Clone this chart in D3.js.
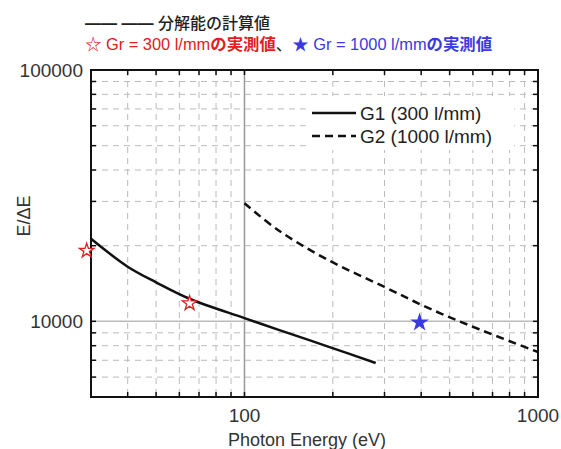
<!DOCTYPE html>
<html>
<head>
<meta charset="utf-8">
<script src="https://cdn.jsdelivr.net/npm/d3@7"></script>
<style>
body { margin: 0; background: white; }
text { font-family: "Liberation Sans", Arial, "Noto Sans CJK JP", sans-serif; }
.jp { font-family: "Liberation Sans", "Noto Sans CJK JP", sans-serif; }
</style>
</head>
<body>
<script>
// calculated resolution curves
var g1Energy = [30, 40, 50, 65, 100, 130, 195, 280];
var g1Res = [21300, 16500, 14300, 12300, 10300, 9270, 7900, 6830];
var g2Energy = [100, 130, 190, 300, 430, 630, 1000];
var g2Res = [29500, 23100, 17700, 13700, 11200, 9300, 7550];

// measured values
var g1MeasEnergy = [29, 65];
var g1MeasRes = [19100, 11800];
var g2MeasEnergy = [395];
var g2MeasRes = [9900];

var xTickLabels = [100, 1000];
var yTickLabels = [10000, 100000];
var legendLabels = ["G1 (300 l/mm)", "G2 (1000 l/mm)"];

var w = 561, h = 449;
var pLeft = 91, pRight = 538, pTop = 70, pBottom = 397;

var svg = d3.select("body").append("svg")
	.attr("width", w)
	.attr("height", h);

var x = d3.scaleLog().domain([30, 1000]).range([pLeft, pRight]);
var y = d3.scaleLog().domain([5000, 100000]).range([pBottom, pTop]);

var xMinor = [40, 50, 60, 70, 80, 90, 200, 300, 400, 500, 600, 700, 800, 900];
var yMinor = [6000, 7000, 8000, 9000, 20000, 30000, 40000, 50000, 60000, 70000, 80000, 90000];

// grid
var grid = svg.append("g");
grid.selectAll("line.vx").data(xMinor).enter().append("line")
	.attr("x1", d => x(d)).attr("x2", d => x(d))
	.attr("y1", pTop).attr("y2", pBottom)
	.style("stroke", "#bbb").style("stroke-width", 1).style("stroke-dasharray", "6,5");
grid.selectAll("line.hy").data(yMinor).enter().append("line")
	.attr("x1", pLeft).attr("x2", pRight)
	.attr("y1", d => y(d)).attr("y2", d => y(d))
	.style("stroke", "#bbb").style("stroke-width", 1).style("stroke-dasharray", "6,5");
grid.append("line")
	.attr("x1", x(100)).attr("x2", x(100)).attr("y1", pTop).attr("y2", pBottom)
	.style("stroke", "#999").style("stroke-width", 1.5);
grid.append("line")
	.attr("x1", pLeft).attr("x2", pRight).attr("y1", y(10000)).attr("y2", y(10000))
	.style("stroke", "#bbb").style("stroke-width", 1.5);

// legend background
svg.append("rect")
	.attr("x", 308).attr("y", 96).attr("width", 206).attr("height", 54)
	.style("fill", "white");

// axes with inward ticks
var xAll = xMinor.concat([100]);
var yAll = yMinor.concat([10000]);
var ticks = svg.append("g").style("stroke", "#111").style("stroke-width", 1.5);
xAll.forEach(function(d) {
	ticks.append("line").attr("x1", x(d)).attr("x2", x(d)).attr("y1", pBottom).attr("y2", pBottom - 5);
	ticks.append("line").attr("x1", x(d)).attr("x2", x(d)).attr("y1", pTop).attr("y2", pTop + 5);
});
yAll.forEach(function(d) {
	ticks.append("line").attr("x1", pLeft).attr("x2", pLeft + 5).attr("y1", y(d)).attr("y2", y(d));
	ticks.append("line").attr("x1", pRight).attr("x2", pRight - 5).attr("y1", y(d)).attr("y2", y(d));
});

svg.append("rect")
	.attr("x", pLeft).attr("y", pTop).attr("width", pRight - pLeft).attr("height", pBottom - pTop)
	.style("fill", "none").style("stroke", "#111").style("stroke-width", 2);

svg.selectAll("text.xl").data(xTickLabels).enter().append("text")
	.attr("x", d => x(d)).attr("y", pBottom + 25)
	.attr("text-anchor", "middle")
	.style("font-size", "19px").style("fill", "#333")
	.text(d => d);
svg.selectAll("text.yl").data(yTickLabels).enter().append("text")
	.attr("x", pLeft - 8).attr("y", d => y(d) + 7)
	.attr("text-anchor", "end")
	.style("font-size", "19px").style("fill", "#333")
	.text(d => d);

svg.append("text")
	.attr("x", 307).attr("y", 446)
	.attr("text-anchor", "middle")
	.style("font-size", "18px").style("fill", "#333")
	.text("Photon Energy (eV)");
svg.append("text")
	.attr("transform", "translate(30,216) rotate(-90)")
	.attr("text-anchor", "middle")
	.style("font-size", "18px").style("fill", "#333")
	.text("E/\u0394E");

// curves
var line = d3.line().curve(d3.curveCatmullRom)
	.x(d => x(d[0])).y(d => y(d[1]));
svg.append("path")
	.datum(d3.zip(g1Energy, g1Res))
	.attr("d", line)
	.style("fill", "none").style("stroke", "#111").style("stroke-width", 2.5);
svg.append("path")
	.datum(d3.zip(g2Energy, g2Res))
	.attr("d", line)
	.style("fill", "none").style("stroke", "#111").style("stroke-width", 2.5)
	.style("stroke-dasharray", "8,5");

// measured points
var star = d3.symbol().type(d3.symbolStar);
svg.selectAll("path.s1").data(d3.zip(g1MeasEnergy, g1MeasRes)).enter().append("path")
	.attr("transform", d => "translate(" + x(d[0]) + "," + y(d[1]) + ")")
	.attr("d", star.size(65)())
	.style("fill", "white").style("stroke", "#e02020").style("stroke-width", 1.3);
svg.selectAll("path.s2").data(d3.zip(g2MeasEnergy, g2MeasRes)).enter().append("path")
	.attr("transform", d => "translate(" + x(d[0]) + "," + y(d[1]) + ")")
	.attr("d", star.size(110)())
	.style("fill", "#3a3ae0");

// legend
legendLabels.forEach(function(t, i) {
	var ly = 113 + i * 23;
	svg.append("line")
		.attr("x1", 312).attr("x2", 356).attr("y1", ly).attr("y2", ly)
		.style("stroke", "#111").style("stroke-width", 2.5)
		.style("stroke-dasharray", i == 1 ? "8,5" : null);
	svg.append("text")
		.attr("x", 360).attr("y", ly + 7)
		.style("font-size", "19px").style("fill", "#222")
		.text(t);
});

// header notes
var head = svg.append("text")
	.attr("class", "jp")
	.attr("x", 85).attr("y", 29)
	.style("font-size", "16px").style("fill", "#222");
head.append("tspan").style("font-weight", "bold").text("\u2014\u2014 \u2014\u2014 ");
head.append("tspan").style("font-weight", "500").text("分解能の計算値");
var note = svg.append("text")
	.attr("class", "jp")
	.attr("x", 85).attr("y", 50)
	.style("font-size", "16.4px");
note.append("tspan").style("fill", "#e02020").text("\u2606 Gr = 300 l/mm");
note.append("tspan").style("fill", "#e02020").style("font-weight", "bold").text("の実測値");
note.append("tspan").style("fill", "#222").text("、");
note.append("tspan").style("fill", "#3a3ae0").text("\u2605 Gr = 1000 l/mm");
note.append("tspan").style("fill", "#3a3ae0").style("font-weight", "bold").text("の実測値");
</script>
</body>
</html>
